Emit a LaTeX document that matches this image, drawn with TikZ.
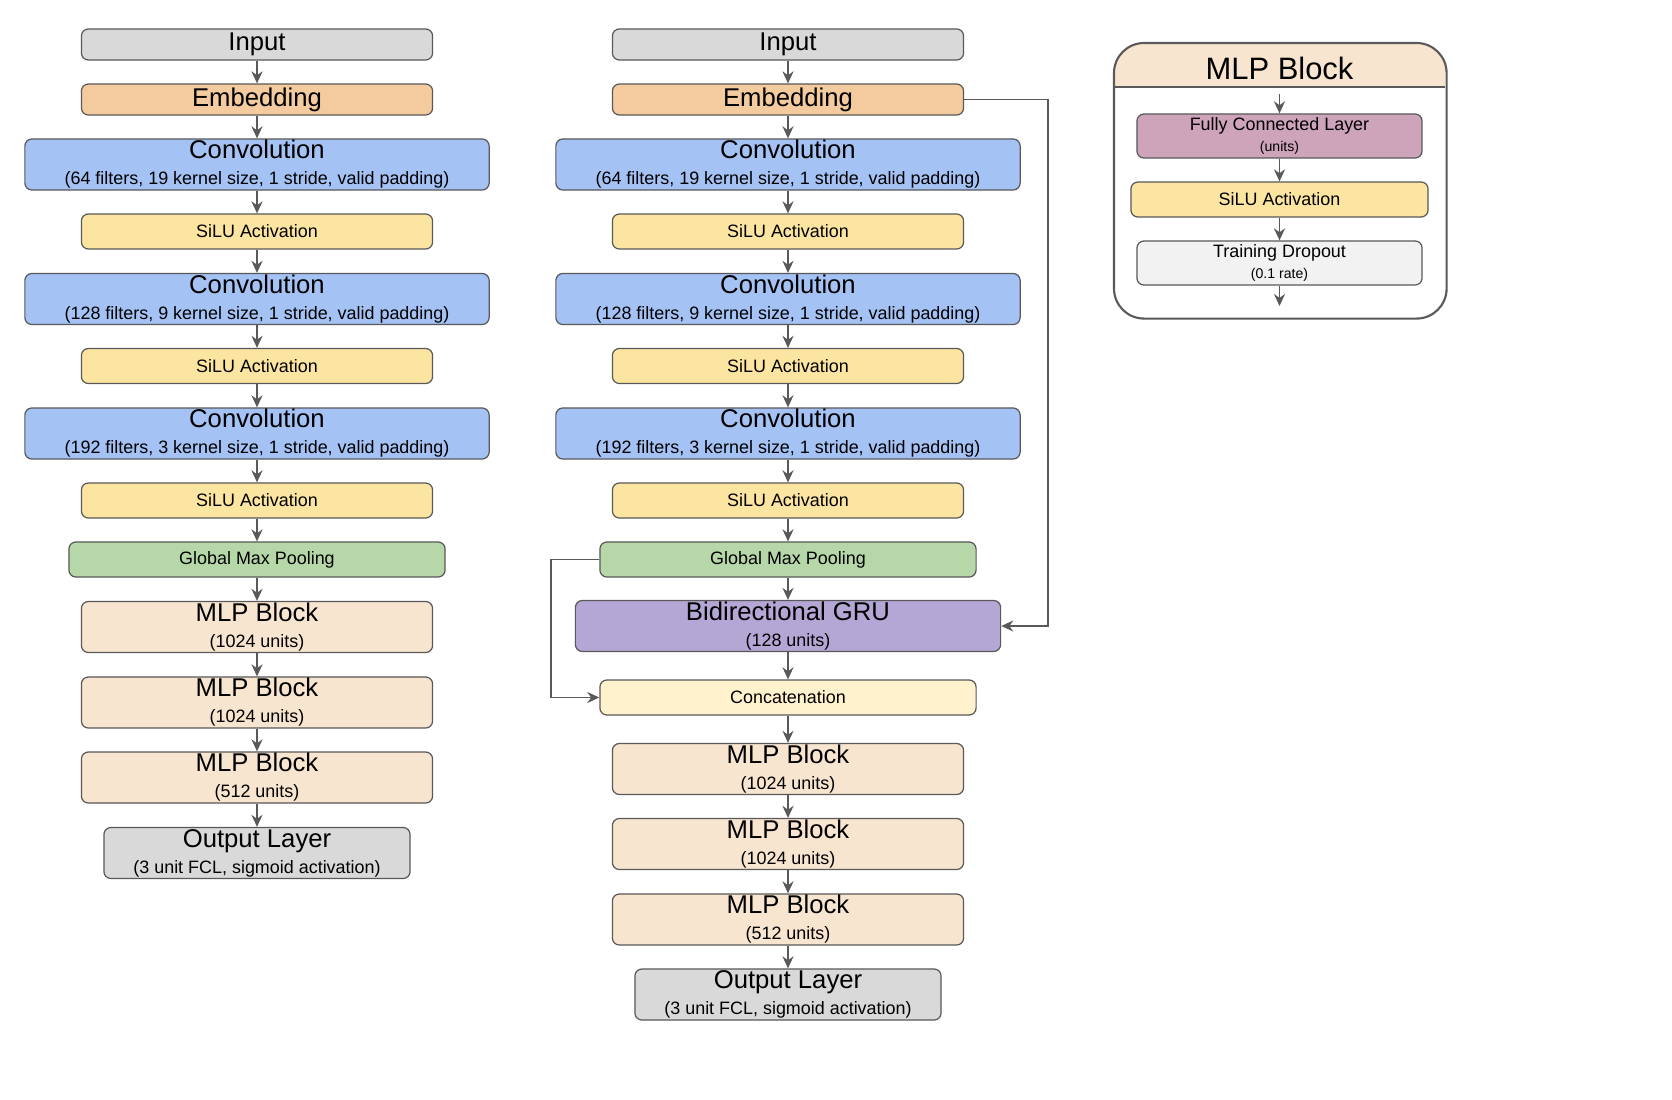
\documentclass[tikz,border=0pt]{standalone}
\usepackage{fontspec}
\setmainfont{Liberation Sans}
\usetikzlibrary{arrows.meta}
\definecolor{edge}{HTML}{595959}
\newcommand{\bigtxt}{\fontsize{7.3}{7.4}\selectfont}
\newcommand{\smalltxt}{\fontsize{5.1}{6}\selectfont}
\newcommand{\tinytxt}{\fontsize{4}{4.5}\selectfont}
\newcommand{\twoline}[2]{#1\\{\smalltxt #2}}
\tikzset{
  blk/.style={draw=edge, line width=0.35pt, rounded corners=0.7mm, inner sep=0pt, align=center, minimum width=3.51cm},
  tall/.style={blk, minimum height=0.51cm, font=\bigtxt},
  short/.style={blk, minimum height=0.35cm},
  grey/.style={tall, minimum height=0.31cm, fill=black!15},
  embed/.style={grey, fill={rgb,255:red,243;green,203;blue,158}},
  conv/.style={tall, minimum width=4.64cm, fill={rgb,255:red,164;green,194;blue,244}},
  silu/.style={short, fill={rgb,255:red,252;green,229;blue,160}, font=\smalltxt},
  pool/.style={short, minimum width=3.76cm, fill={rgb,255:red,182;green,215;blue,168}, font=\smalltxt},
  mlp/.style={tall, fill={rgb,255:red,248;green,229;blue,207}},
  outl/.style={tall, minimum width=3.06cm, fill=black!15},
  gru/.style={tall, minimum width=4.25cm, fill={rgb,255:red,180;green,167;blue,214}},
  concat/.style={pool, fill={rgb,255:red,255;green,242;blue,204}},
  unit/.style={blk, minimum width=2.85cm, minimum height=0.44cm, font=\smalltxt},
  flow/.style={-{Stealth[length=1.2mm,width=1.1mm]}, draw=edge, line width=0.55pt},
}
\begin{document}
\begin{tikzpicture}[x=0.01cm,y=-0.01cm]
\clip (0,0) rectangle (1672,1100);
% left network
\node[grey] (inA) at (257,44.5) {Input};
\node[embed] (embA) at (257,99.5) {Embedding};
\node[conv] (cvA1) at (257,164.5) {\twoline{Convolution}{(64 filters, 19 kernel size, 1 stride, valid padding)}};
\node[silu] (saA1) at (257,231.5) {SiLU Activation};
\node[conv] (cvA2) at (257,299) {\twoline{Convolution}{(128 filters, 9 kernel size, 1 stride, valid padding)}};
\node[silu] (saA2) at (257,366) {SiLU Activation};
\node[conv] (cvA3) at (257,433.5) {\twoline{Convolution}{(192 filters, 3 kernel size, 1 stride, valid padding)}};
\node[silu] (saA3) at (257,500.5) {SiLU Activation};
\node[pool] (gmpA) at (257,559.5) {Global Max Pooling};
\node[mlp] (mlA1) at (257,627) {\twoline{MLP Block}{(1024 units)}};
\node[mlp] (mlA2) at (257,702.5) {\twoline{MLP Block}{(1024 units)}};
\node[mlp] (mlA3) at (257,777.5) {\twoline{MLP Block}{(512 units)}};
\node[outl] (outA) at (257,853) {\twoline{Output Layer}{(3 unit FCL, sigmoid activation)}};
\foreach \a/\b in {inA/embA,embA/cvA1,cvA1/saA1,saA1/cvA2,cvA2/saA2,saA2/cvA3,cvA3/saA3,saA3/gmpA,gmpA/mlA1,mlA1/mlA2,mlA2/mlA3,mlA3/outA}
  \draw[flow] (\a) -- (\b);
% right network
\node[grey] (inB) at (788,44.5) {Input};
\node[embed] (embB) at (788,99.5) {Embedding};
\node[conv] (cvB1) at (788,164.5) {\twoline{Convolution}{(64 filters, 19 kernel size, 1 stride, valid padding)}};
\node[silu] (saB1) at (788,231.5) {SiLU Activation};
\node[conv] (cvB2) at (788,299) {\twoline{Convolution}{(128 filters, 9 kernel size, 1 stride, valid padding)}};
\node[silu] (saB2) at (788,366) {SiLU Activation};
\node[conv] (cvB3) at (788,433.5) {\twoline{Convolution}{(192 filters, 3 kernel size, 1 stride, valid padding)}};
\node[silu] (saB3) at (788,500.5) {SiLU Activation};
\node[pool] (gmpB) at (788,559.5) {Global Max Pooling};
\node[gru] (gru) at (788,626) {\twoline{Bidirectional GRU}{(128 units)}};
\node[concat] (cat) at (788,697.5) {Concatenation};
\node[mlp] (mlB1) at (788,769) {\twoline{MLP Block}{(1024 units)}};
\node[mlp] (mlB2) at (788,844) {\twoline{MLP Block}{(1024 units)}};
\node[mlp] (mlB3) at (788,919.5) {\twoline{MLP Block}{(512 units)}};
\node[outl] (outB) at (788,994.5) {\twoline{Output Layer}{(3 unit FCL, sigmoid activation)}};
\foreach \a/\b in {inB/embB,embB/cvB1,cvB1/saB1,saB1/cvB2,cvB2/saB2,saB2/cvB3,cvB3/saB3,saB3/gmpB,gmpB/gru,gru/cat,cat/mlB1,mlB1/mlB2,mlB2/mlB3,mlB3/outB}
  \draw[flow] (\a) -- (\b);
\draw[flow] (embB.east) -- ++(84,0) |- (gru.east);
\draw[flow] (gmpB.west) -- ++(-48,0) |- (cat.west);
% MLP block legend
\node[minimum width=3.31cm, minimum height=2.74cm, anchor=north west] (panel) at (1114,43) {};
\begin{scope}
  \clip[rounded corners=3mm] (panel.north west) rectangle (panel.south east);
  \fill[fill={rgb,255:red,248;green,229;blue,207}] (panel.north west) rectangle (1445,87);
\end{scope}
\draw[edge, line width=0.6pt, rounded corners=3mm] (panel.north west) rectangle (panel.south east);
\draw[edge, line width=0.6pt] (1114,87) -- (1445,87);
\node[font=\fontsize{8.8}{9}\selectfont] (ttl) at (1279.5,68) {MLP Block};
\coordinate (topin) at (1279.5,94);
\coordinate (botout) at (1279.5,306);
\node[unit, fill={rgb,255:red,206;green,164;blue,187}] (fcl) at (1279.5,136) {Fully Connected Layer\\{\tinytxt (units)}};
\node[silu, minimum width=2.97cm] (sil) at (1279.5,199.5) {SiLU Activation};
\node[unit, fill=black!5] (drop) at (1279.5,263) {Training Dropout\\{\tinytxt (0.1 rate)}};
\draw[flow] (topin) -- (fcl);
\draw[flow] (fcl) -- (sil);
\draw[flow] (sil) -- (drop);
\draw[flow] (drop) -- (botout);
\end{tikzpicture}
\end{document}
